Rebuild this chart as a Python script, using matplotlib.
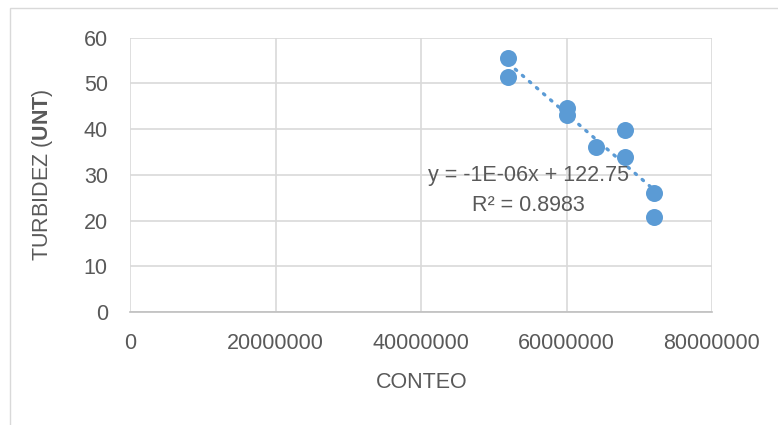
import numpy as np
import matplotlib
matplotlib.use("Agg")
import matplotlib.pyplot as plt
from matplotlib.patches import Rectangle

# data
conteo = [52e6, 52e6, 60e6, 60e6, 64e6, 68e6, 68e6, 72e6, 72e6]
turbidez = [55.6, 51.5, 44.6, 43.2, 36.1, 39.9, 33.8, 26.1, 20.8]
x_ticks = [0, 20000000, 40000000, 60000000, 80000000]
y_ticks = [0, 10, 20, 30, 40, 50, 60]
eq_text = "y = -1E-06x + 122.75"
r2_text = "R² = 0.8983"

plt.rcParams['font.family'] = ['Liberation Sans', 'DejaVu Sans']
plt.rcParams['mathtext.fontset'] = 'custom'
plt.rcParams['mathtext.rm'] = 'Liberation Sans'
plt.rcParams['mathtext.bf'] = 'Liberation Sans:bold'

blue = '#5B9BD5'
grey_txt = '#595959'
grid_c = '#D9D9D9'
fs = 15.5

fig = plt.figure(figsize=(7.78, 4.25), dpi=100)
fig.patches.append(Rectangle((10/778, -0.1), 1.2, 1 - 8/425 + 0.1, transform=fig.transFigure,
                             fill=False, edgecolor=grid_c, linewidth=1))
ax = fig.add_axes([130/778, 1 - 312/425, (712 - 130)/778, (312 - 37.7)/425])

# trend line
coef = np.polyfit(conteo, turbidez, 1)
xs = np.array([min(conteo), max(conteo)])
ax.plot(xs, np.polyval(coef, xs), color=blue, linewidth=2.4,
        linestyle=(0, (0.5, 2.3)), dash_capstyle='round', zorder=2)

ax.scatter(conteo, turbidez, s=150, color=blue, zorder=3, linewidths=0)

ax.set_xlim(0, 80000000)
ax.set_ylim(0, 60)
ax.set_xticks(x_ticks)
ax.set_xticklabels([str(v) for v in x_ticks])
ax.set_yticks(y_ticks)
ax.grid(True, color=grid_c, linewidth=1.2)
ax.set_axisbelow(True)
for s in ['top', 'right', 'left']:
    ax.spines[s].set_visible(False)
ax.spines['bottom'].set_color('#BFBFBF')
ax.spines['bottom'].set_linewidth(1.2)
ax.tick_params(length=0, labelsize=fs, labelcolor=grey_txt)
ax.tick_params(axis='y', pad=16)
ax.tick_params(axis='x', pad=15)

ax.text(54.8e6, 29.9, eq_text, ha='center', va='center', fontsize=fs, color=grey_txt)
ax.text(54.8e6, 23.3, r2_text, ha='center', va='center', fontsize=fs, color=grey_txt)

fig.text(422/778, 1 - 383/425, "CONTEO", ha='center', va='center', fontsize=fs, color=grey_txt)
fig.text(43/778, 1 - 175/425, r"TURBIDEZ ($\mathbf{UNT}$)", ha='center', va='center',
         rotation=90, fontsize=fs, color=grey_txt)

fig.savefig("out.png", dpi=100)
